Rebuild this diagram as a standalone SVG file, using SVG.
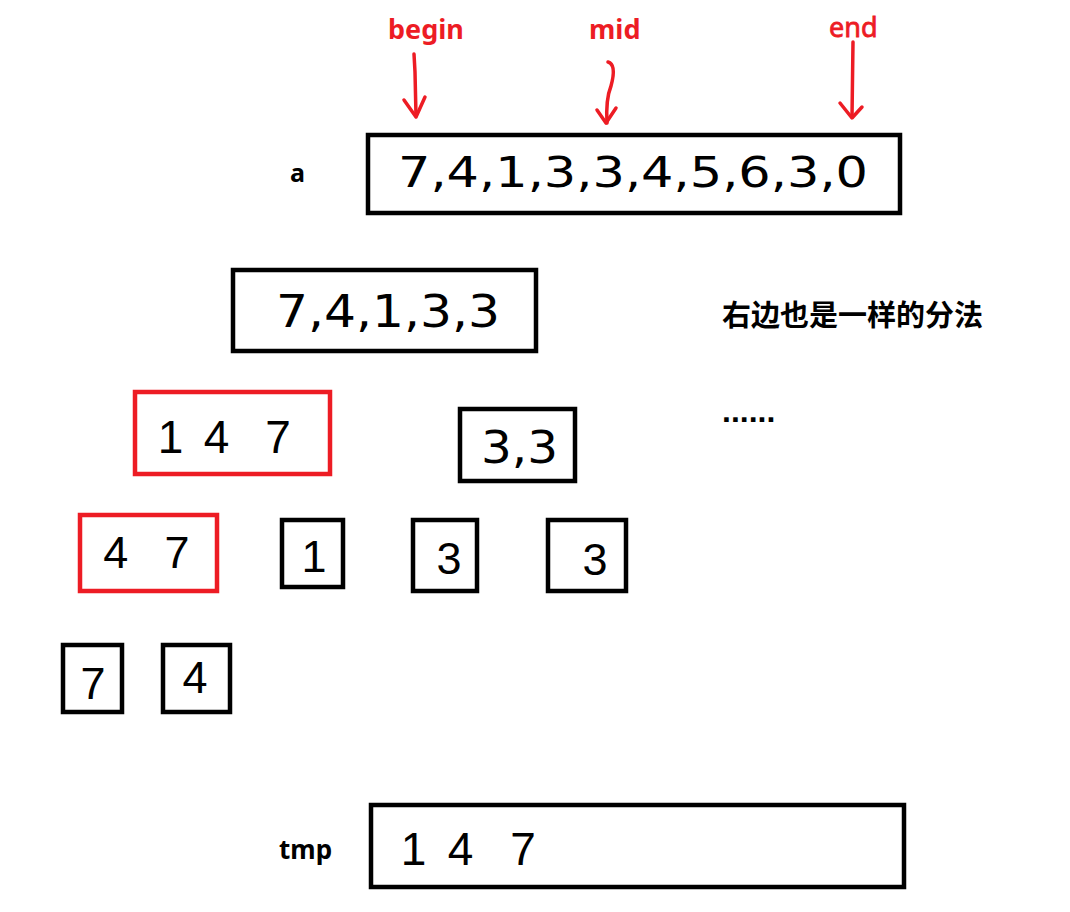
<svg xmlns="http://www.w3.org/2000/svg" width="1070" height="912" viewBox="0 0 1070 912">
<style>
.bx{fill:#fff;stroke:#000;stroke-width:4.5}
.rb{fill:#fff;stroke:#ed1c24;stroke-width:4.5}
.d{font-family:"DejaVu Sans","Liberation Sans",sans-serif;font-size:44px;fill:#000}
.dm{font-family:"Liberation Sans",Arial,sans-serif;font-size:45px;fill:#000;text-anchor:middle}
.lb{font-family:"Noto Sans","Liberation Sans",sans-serif;font-weight:bold;fill:#000}
.rl{font-family:"Noto Sans","Liberation Sans",sans-serif;font-weight:bold;font-size:27px;fill:#ed1c24}
.ar{fill:none;stroke:#ed1c24;stroke-width:3.5;stroke-linecap:round;stroke-linejoin:round}
</style>
<rect width="1070" height="912" fill="#fff"/>
<g id="labels">
<text class="rl" x="388" y="39">begin</text>
<text class="rl" x="589" y="39">mid</text>
<text class="rl" x="829" y="37" style="font-weight:normal;font-size:27px;stroke:#ed1c24;stroke-width:0.8">end</text>
<text class="lb" x="290" y="182" style="font-size:25px">a</text>
<text class="lb" x="279" y="859" style="font-size:26px">tmp</text>
<text class="lb" x="722" y="326" style="font-size:29px;font-family:'Noto Sans CJK SC','Noto Sans',sans-serif">右边也是一样的分法</text>
<text class="lb" x="722" y="422" style="font-size:32px;font-family:'Liberation Sans',sans-serif">......</text>
</g>
<g id="connectors">
<path class="ar" d="M414,54 L415,72 L416,116"/>
<path class="ar" d="M404,100 L416,117 L425,97"/>
<path class="ar" d="M608,62 C615,64 614,75 611,86 C607,96 606,106 607,123"/>
<path class="ar" d="M597,110 L606,123 L616,108"/>
<path class="ar" d="M853,42 L852,117"/>
<path class="ar" d="M840,103 L852,118 L862,107"/>
</g>
<g id="node-a">
<rect class="bx" x="368" y="135" width="532" height="78"/>
<text class="d" x="398" y="187" style="font-size:42px" textLength="470" lengthAdjust="spacingAndGlyphs">7,4,1,3,3,4,5,6,3,0</text>
</g>
<g id="node-left5">
<rect class="bx" x="233" y="270" width="303" height="81"/>
<text class="d" x="276" y="327" textLength="224" lengthAdjust="spacingAndGlyphs">7,4,1,3,3</text>
</g>
<g id="node-147">
<rect class="rb" x="135" y="392" width="195" height="82"/>
<text class="dm" y="453" style="font-size:46px"><tspan x="177">1</tspan> <tspan x="223">4</tspan> <tspan x="278">7</tspan></text>
</g>
<g id="node-33">
<rect class="bx" x="460" y="409" width="115" height="72"/>
<text class="d" x="481" y="463" textLength="77" lengthAdjust="spacingAndGlyphs">3,3</text>
</g>
<g id="node-47">
<rect class="rb" x="80" y="515" width="137" height="76"/>
<text class="dm" y="568"><tspan x="122">4</tspan> <tspan x="177">7</tspan></text>
</g>
<g id="node-1">
<rect class="bx" x="282" y="520" width="61" height="67"/>
<text class="dm" x="314" y="572">1</text>
</g>
<g id="node-3a">
<rect class="bx" x="413" y="520" width="64" height="71"/>
<text class="dm" x="449" y="574">3</text>
</g>
<g id="node-3b">
<rect class="bx" x="548" y="520" width="78" height="71"/>
<text class="dm" x="595" y="575">3</text>
</g>
<g id="node-7">
<rect class="bx" x="63" y="645" width="59" height="67"/>
<text class="dm" x="93" y="699">7</text>
</g>
<g id="node-4">
<rect class="bx" x="163" y="645" width="67" height="67"/>
<text class="dm" x="195" y="693">4</text>
</g>
<g id="node-tmp">
<rect class="bx" x="371" y="805" width="533" height="82"/>
<text class="dm" y="865" style="font-size:46px"><tspan x="420">1</tspan> <tspan x="467">4</tspan> <tspan x="523">7</tspan></text>
</g>
</svg>
